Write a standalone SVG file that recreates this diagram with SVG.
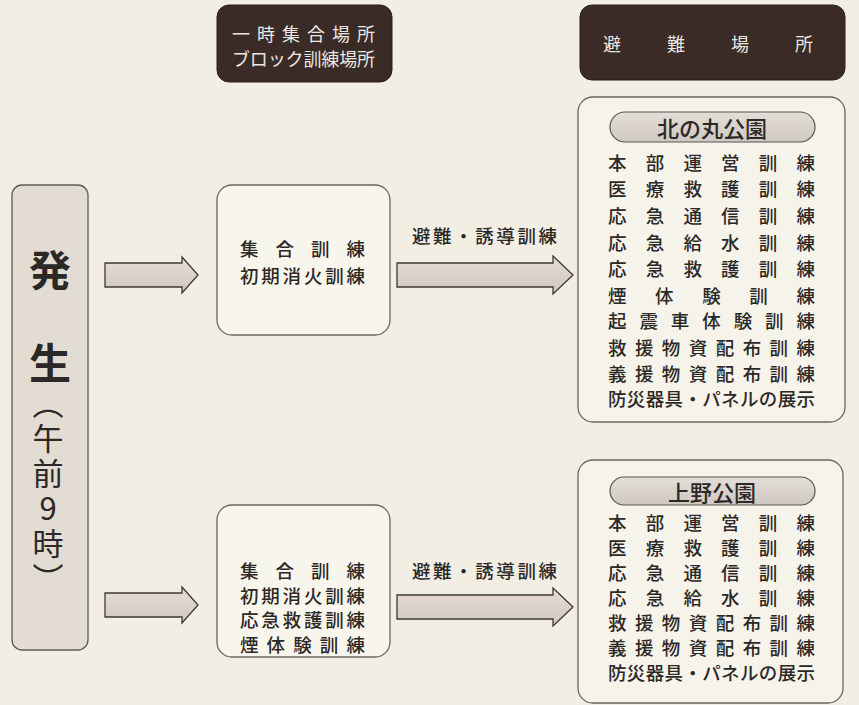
<svg xmlns="http://www.w3.org/2000/svg" width="859" height="705" viewBox="0 0 859 705">
<defs>
<linearGradient id="ag" x1="0" y1="0" x2="0" y2="1">
<stop offset="0" stop-color="#e6ddd6"/><stop offset="1" stop-color="#d2c7c0"/>
</linearGradient>
<linearGradient id="pg" x1="0" y1="0" x2="0" y2="1">
<stop offset="0" stop-color="#e4ded8"/><stop offset="1" stop-color="#cfc8c2"/>
</linearGradient>
<style>
text{font-family:"Noto Sans CJK JP","Noto Sans CJK SC",sans-serif;fill:#2b2826;dominant-baseline:central}
.hd{fill:#3a2b26;stroke:#2a1f1b;stroke-width:1}
.ht{fill:#ece8e4;font-size:18px}
.mb{fill:#f8f5ec;stroke:#6a6560;stroke-width:1.3}
.rb{fill:#f6f3eb;stroke:#6a6560;stroke-width:1.3}
.pill{fill:url(#pg);stroke:#5a5550;stroke-width:1.2}
.mt{font-size:18.5px;font-weight:500}
.rt{font-size:18.5px;font-weight:500}
.pt{font-size:22px;font-weight:500;text-anchor:middle}
.arr{fill:url(#ag);stroke:#3d3835;stroke-width:1.3;stroke-linejoin:miter}
.al{font-size:18.5px;font-weight:500}
.vt{font-size:31px;writing-mode:vertical-rl;text-orientation:upright;letter-spacing:4px}
</style>
</defs>
<rect width="859" height="705" fill="#f2eee3"/>

<g id="header-temp">
<rect class="hd" x="217" y="5" width="175" height="77" rx="12"/>
<text class="ht" x="232" y="33" textLength="143" lengthAdjust="spacing">一時集合場所</text>
<text class="ht" x="232" y="58" textLength="143" lengthAdjust="spacing">ブロック訓練場所</text>
</g>

<g id="header-shelter">
<rect class="hd" x="580" y="5" width="265" height="75" rx="12"/>
<text class="ht" x="603" y="43" font-size="19" textLength="210" lengthAdjust="spacing">避難場所</text>
</g>

<g id="occurrence">
<rect x="12" y="185" width="76" height="465" rx="10" fill="#e2dcd3" stroke="#5e5955" stroke-width="1.3"/>
<text x="50" y="267" font-size="42" font-weight="bold" text-anchor="middle">発</text>
<text x="50" y="360" font-size="42" font-weight="bold" text-anchor="middle">生</text>
<text class="vt" x="48" y="388">（午前9時）</text>
</g>

<g id="assembly-1">
<rect class="mb" x="217" y="185" width="173" height="150" rx="15"/>
<text class="mt" x="240" y="248" textLength="125" lengthAdjust="spacing">集合訓練</text>
<text class="mt" x="240" y="275" textLength="125" lengthAdjust="spacing">初期消火訓練</text>
</g>

<g id="assembly-2">
<rect class="mb" x="217" y="505" width="173" height="152" rx="15"/>
<text class="mt" x="240" y="570" textLength="125" lengthAdjust="spacing">集合訓練</text>
<text class="mt" x="240" y="594.5" textLength="125" lengthAdjust="spacing">初期消火訓練</text>
<text class="mt" x="240" y="619" textLength="125" lengthAdjust="spacing">応急救護訓練</text>
<text class="mt" x="240" y="643.5" textLength="125" lengthAdjust="spacing">煙体験訓練</text>
</g>

<g id="kitanomaru">
<rect class="rb" x="578" y="97" width="267" height="325" rx="15"/>
<rect class="pill" x="610" y="112" width="205" height="30" rx="15"/>
<text class="pt" x="712" y="127">北の丸公園</text>
<text class="rt" x="608" y="162" textLength="207" lengthAdjust="spacing">本部運営訓練</text>
<text class="rt" x="608" y="188" textLength="207" lengthAdjust="spacing">医療救護訓練</text>
<text class="rt" x="608" y="215" textLength="207" lengthAdjust="spacing">応急通信訓練</text>
<text class="rt" x="608" y="242" textLength="207" lengthAdjust="spacing">応急給水訓練</text>
<text class="rt" x="608" y="268" textLength="207" lengthAdjust="spacing">応急救護訓練</text>
<text class="rt" x="608" y="295" textLength="207" lengthAdjust="spacing">煙体験訓練</text>
<text class="rt" x="608" y="320" textLength="207" lengthAdjust="spacing">起震車体験訓練</text>
<text class="rt" x="608" y="347" textLength="207" lengthAdjust="spacing">救援物資配布訓練</text>
<text class="rt" x="608" y="373" textLength="207" lengthAdjust="spacing">義援物資配布訓練</text>
<text class="rt" x="608" y="398" textLength="207" lengthAdjust="spacing">防災器具・パネルの展示</text>
</g>

<g id="ueno">
<rect class="rb" x="578" y="460" width="265" height="243" rx="15"/>
<rect class="pill" x="610" y="477" width="205" height="28" rx="14"/>
<text class="pt" x="712" y="491">上野公園</text>
<text class="rt" x="608" y="522" textLength="207" lengthAdjust="spacing">本部運営訓練</text>
<text class="rt" x="608" y="546.5" textLength="207" lengthAdjust="spacing">医療救護訓練</text>
<text class="rt" x="608" y="571.5" textLength="207" lengthAdjust="spacing">応急通信訓練</text>
<text class="rt" x="608" y="597" textLength="207" lengthAdjust="spacing">応急給水訓練</text>
<text class="rt" x="608" y="622" textLength="207" lengthAdjust="spacing">救援物資配布訓練</text>
<text class="rt" x="608" y="647" textLength="207" lengthAdjust="spacing">義援物資配布訓練</text>
<text class="rt" x="608" y="672" textLength="207" lengthAdjust="spacing">防災器具・パネルの展示</text>
</g>

<g id="connectors">
<polygon class="arr" points="105,263 182,263 182,257 198,275 182,293 182,287 105,287"/>
<polygon class="arr" points="397,263 553,263 553,256 573,275 553,294 553,287 397,287"/>
<polygon class="arr" points="105,593 182,593 182,587 198,605 182,623 182,617 105,617"/>
<polygon class="arr" points="397,595 553,595 553,588 573,607 553,626 553,619 397,619"/>
<text class="al" x="412" y="235" textLength="145" lengthAdjust="spacing">避難・誘導訓練</text>
<text class="al" x="412" y="570" textLength="145" lengthAdjust="spacing">避難・誘導訓練</text>
</g>
</svg>
